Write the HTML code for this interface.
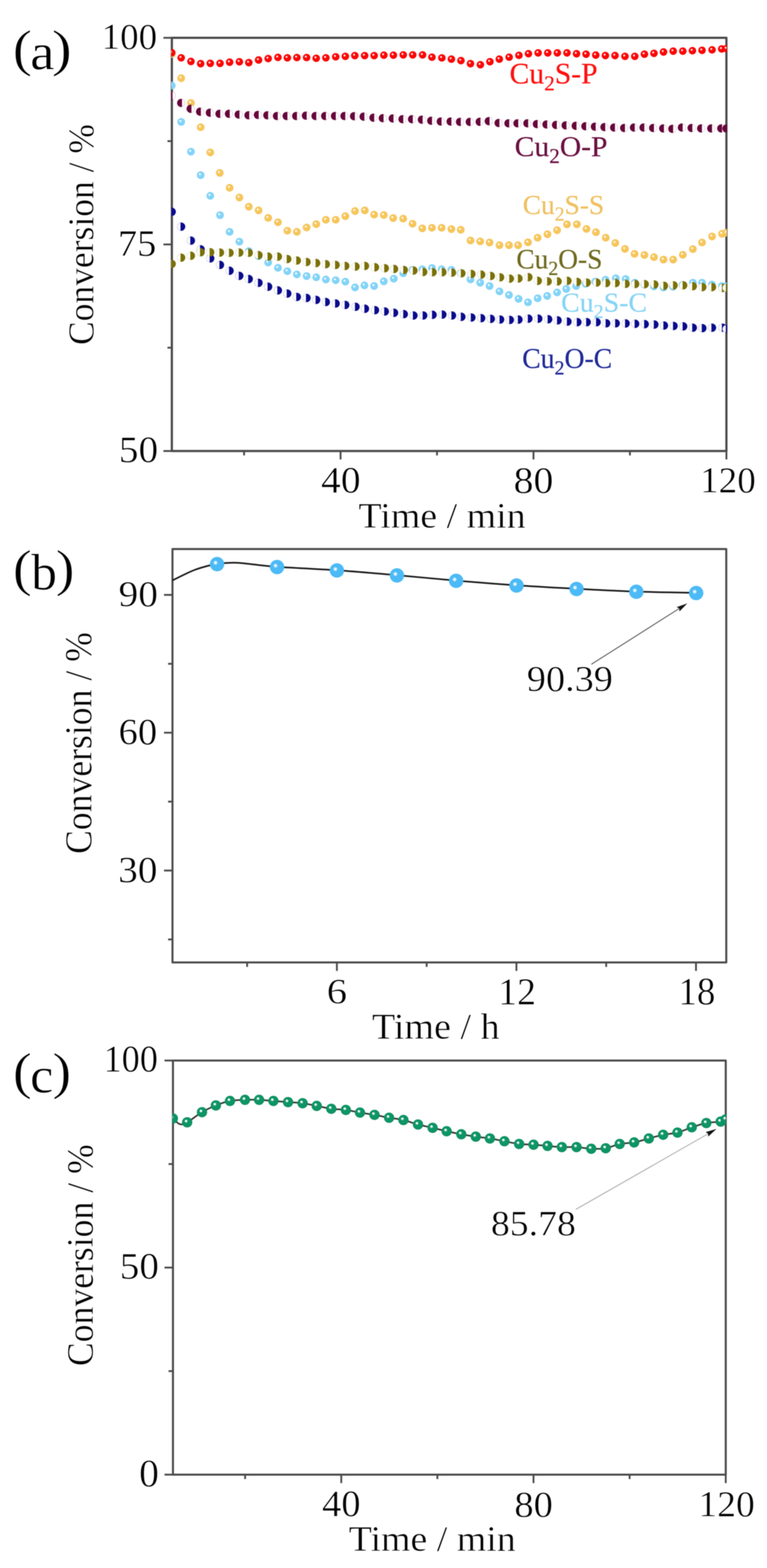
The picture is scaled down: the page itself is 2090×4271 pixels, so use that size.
<!DOCTYPE html>
<html><head><meta charset="utf-8"><title>Conversion vs time</title>
<style>html,body{margin:0;padding:0;background:#fff;} svg{display:block;filter:blur(1.1px);} text{font-family:'Liberation Serif', 'Times New Roman', serif;stroke:#fff;stroke-width:1.1px;}</style>
</head><body>
<svg width="2090" height="4271" viewBox="0 0 2090 4271">
<defs>
<radialGradient id="gR" cx="0.5" cy="0.5" r="0.5" fx="0.36" fy="0.34"><stop offset="0" stop-color="#fff"/><stop offset="0.16" stop-color="#fff" stop-opacity="0.9"/><stop offset="0.34" stop-color="#ff0505"/><stop offset="0.85" stop-color="#ff0505"/><stop offset="1" stop-color="#e00000"/></radialGradient>
<radialGradient id="gO" cx="0.5" cy="0.5" r="0.5" fx="0.36" fy="0.34"><stop offset="0" stop-color="#fff"/><stop offset="0.16" stop-color="#fff" stop-opacity="0.9"/><stop offset="0.34" stop-color="#f7c65a"/><stop offset="0.85" stop-color="#f7c65a"/><stop offset="1" stop-color="#efbb50"/></radialGradient>
<radialGradient id="gL" cx="0.5" cy="0.5" r="0.5" fx="0.36" fy="0.34"><stop offset="0" stop-color="#fff"/><stop offset="0.16" stop-color="#fff" stop-opacity="0.9"/><stop offset="0.34" stop-color="#82d4f8"/><stop offset="0.85" stop-color="#82d4f8"/><stop offset="1" stop-color="#6fc8f2"/></radialGradient>
<radialGradient id="gB" cx="0.5" cy="0.5" r="0.5" fx="0.36" fy="0.34"><stop offset="0" stop-color="#fff"/><stop offset="0.16" stop-color="#fff" stop-opacity="0.9"/><stop offset="0.34" stop-color="#4cb8f4"/><stop offset="0.85" stop-color="#4cb8f4"/><stop offset="1" stop-color="#43b0ef"/></radialGradient>
<radialGradient id="gG" cx="0.5" cy="0.5" r="0.5" fx="0.36" fy="0.34"><stop offset="0" stop-color="#fff"/><stop offset="0.16" stop-color="#fff" stop-opacity="0.9"/><stop offset="0.34" stop-color="#0c9565"/><stop offset="0.85" stop-color="#0c9565"/><stop offset="1" stop-color="#078556"/></radialGradient>
<radialGradient id="hl"><stop offset="0" stop-color="#fff"/><stop offset="0.45" stop-color="#fff" stop-opacity="0.85"/><stop offset="1" stop-color="#fff" stop-opacity="0"/></radialGradient>
<clipPath id="clipA"><rect x="466.5" y="100" width="1514.5" height="1131"/></clipPath>
<clipPath id="clipB"><rect x="469" y="1493" width="1511" height="1131"/></clipPath>
<clipPath id="clipC"><rect x="469.8" y="2886" width="1508.6" height="1133"/></clipPath>
</defs>
<rect width="2090" height="4271" fill="#fff"/>
<rect x="468.3" y="103" width="1511.1000000000001" height="1125.5" fill="none" stroke="#4a4a4a" stroke-width="6" stroke-linejoin="round"/>
<line x1="445.3" y1="103" x2="468.3" y2="103" stroke="#4a4a4a" stroke-width="5"/>
<line x1="445.3" y1="665.8" x2="468.3" y2="665.8" stroke="#4a4a4a" stroke-width="5"/>
<line x1="445.3" y1="1228.5" x2="468.3" y2="1228.5" stroke="#4a4a4a" stroke-width="5"/>
<line x1="456.3" y1="384.4" x2="468.3" y2="384.4" stroke="#4a4a4a" stroke-width="5"/>
<line x1="456.3" y1="947.1" x2="468.3" y2="947.1" stroke="#4a4a4a" stroke-width="5"/>
<line x1="928" y1="1228.5" x2="928" y2="1251.5" stroke="#4a4a4a" stroke-width="5"/>
<line x1="1453.7" y1="1228.5" x2="1453.7" y2="1251.5" stroke="#4a4a4a" stroke-width="5"/>
<line x1="1979.4" y1="1228.5" x2="1979.4" y2="1251.5" stroke="#4a4a4a" stroke-width="5"/>
<line x1="665.1" y1="1228.5" x2="665.1" y2="1240.5" stroke="#4a4a4a" stroke-width="5"/>
<line x1="1190.8" y1="1228.5" x2="1190.8" y2="1240.5" stroke="#4a4a4a" stroke-width="5"/>
<line x1="1716.5" y1="1228.5" x2="1716.5" y2="1240.5" stroke="#4a4a4a" stroke-width="5"/>
<g clip-path="url(#clipA)">
<circle cx="468.0" cy="147.0" r="10.5" fill="url(#gO)"/>
<circle cx="493.7" cy="213.0" r="10.5" fill="url(#gO)"/>
<circle cx="520.3" cy="280.4" r="10.5" fill="url(#gO)"/>
<circle cx="546.8" cy="346.6" r="10.5" fill="url(#gO)"/>
<circle cx="573.0" cy="415.2" r="10.5" fill="url(#gO)"/>
<circle cx="598.8" cy="471.0" r="10.5" fill="url(#gO)"/>
<circle cx="625.7" cy="511.5" r="10.5" fill="url(#gO)"/>
<circle cx="652.3" cy="538.0" r="10.5" fill="url(#gO)"/>
<circle cx="678.0" cy="563.0" r="10.5" fill="url(#gO)"/>
<circle cx="704.6" cy="573.0" r="10.5" fill="url(#gO)"/>
<circle cx="730.8" cy="593.5" r="10.5" fill="url(#gO)"/>
<circle cx="757.4" cy="605.4" r="10.5" fill="url(#gO)"/>
<circle cx="783.0" cy="628.4" r="10.5" fill="url(#gO)"/>
<circle cx="809.0" cy="631.6" r="10.5" fill="url(#gO)"/>
<circle cx="835.5" cy="619.7" r="10.5" fill="url(#gO)"/>
<circle cx="861.7" cy="610.6" r="10.5" fill="url(#gO)"/>
<circle cx="888.0" cy="598.7" r="10.5" fill="url(#gO)"/>
<circle cx="914.8" cy="598.7" r="10.5" fill="url(#gO)"/>
<circle cx="941.0" cy="588.8" r="10.5" fill="url(#gO)"/>
<circle cx="967.4" cy="574.8" r="10.5" fill="url(#gO)"/>
<circle cx="994.0" cy="573.0" r="10.5" fill="url(#gO)"/>
<circle cx="1019.5" cy="584.6" r="10.5" fill="url(#gO)"/>
<circle cx="1045.8" cy="585.7" r="10.5" fill="url(#gO)"/>
<circle cx="1071.3" cy="594.0" r="10.5" fill="url(#gO)"/>
<circle cx="1098.7" cy="595.6" r="10.5" fill="url(#gO)"/>
<circle cx="1124.2" cy="609.4" r="10.5" fill="url(#gO)"/>
<circle cx="1150.8" cy="622.0" r="10.5" fill="url(#gO)"/>
<circle cx="1177.0" cy="620.4" r="10.5" fill="url(#gO)"/>
<circle cx="1203.4" cy="620.4" r="10.5" fill="url(#gO)"/>
<circle cx="1230.0" cy="624.0" r="10.5" fill="url(#gO)"/>
<circle cx="1255.5" cy="625.8" r="10.5" fill="url(#gO)"/>
<circle cx="1282.0" cy="655.0" r="10.5" fill="url(#gO)"/>
<circle cx="1308.5" cy="657.6" r="10.5" fill="url(#gO)"/>
<circle cx="1334.0" cy="660.5" r="10.5" fill="url(#gO)"/>
<circle cx="1361.0" cy="667.8" r="10.5" fill="url(#gO)"/>
<circle cx="1387.0" cy="667.8" r="10.5" fill="url(#gO)"/>
<circle cx="1411.7" cy="668.0" r="10.5" fill="url(#gO)"/>
<circle cx="1438.7" cy="660.0" r="10.5" fill="url(#gO)"/>
<circle cx="1465.0" cy="647.5" r="10.5" fill="url(#gO)"/>
<circle cx="1491.7" cy="638.0" r="10.5" fill="url(#gO)"/>
<circle cx="1518.0" cy="627.0" r="10.5" fill="url(#gO)"/>
<circle cx="1545.0" cy="611.0" r="10.5" fill="url(#gO)"/>
<circle cx="1572.0" cy="611.0" r="10.5" fill="url(#gO)"/>
<circle cx="1598.0" cy="623.7" r="10.5" fill="url(#gO)"/>
<circle cx="1624.0" cy="632.6" r="10.5" fill="url(#gO)"/>
<circle cx="1650.6" cy="647.5" r="10.5" fill="url(#gO)"/>
<circle cx="1676.6" cy="661.8" r="10.5" fill="url(#gO)"/>
<circle cx="1703.0" cy="678.0" r="10.5" fill="url(#gO)"/>
<circle cx="1729.0" cy="691.5" r="10.5" fill="url(#gO)"/>
<circle cx="1756.0" cy="694.5" r="10.5" fill="url(#gO)"/>
<circle cx="1782.0" cy="700.4" r="10.5" fill="url(#gO)"/>
<circle cx="1808.0" cy="707.0" r="10.5" fill="url(#gO)"/>
<circle cx="1834.4" cy="707.0" r="10.5" fill="url(#gO)"/>
<circle cx="1860.6" cy="694.0" r="10.5" fill="url(#gO)"/>
<circle cx="1888.0" cy="678.5" r="10.5" fill="url(#gO)"/>
<circle cx="1913.0" cy="660.6" r="10.5" fill="url(#gO)"/>
<circle cx="1940.3" cy="644.0" r="10.5" fill="url(#gO)"/>
<circle cx="1967.6" cy="636.8" r="10.5" fill="url(#gO)"/>
<circle cx="1979.4" cy="634.0" r="10.5" fill="url(#gO)"/>
<circle cx="468.0" cy="232.8" r="10.5" fill="url(#gL)"/>
<circle cx="493.7" cy="332.0" r="10.5" fill="url(#gL)"/>
<circle cx="520.3" cy="413.2" r="10.5" fill="url(#gL)"/>
<circle cx="546.8" cy="477.0" r="10.5" fill="url(#gL)"/>
<circle cx="573.0" cy="533.3" r="10.5" fill="url(#gL)"/>
<circle cx="599.6" cy="586.0" r="10.5" fill="url(#gL)"/>
<circle cx="625.7" cy="631.6" r="10.5" fill="url(#gL)"/>
<circle cx="652.3" cy="658.2" r="10.5" fill="url(#gL)"/>
<circle cx="678.0" cy="684.0" r="10.5" fill="url(#gL)"/>
<circle cx="704.6" cy="697.8" r="10.5" fill="url(#gL)"/>
<circle cx="730.8" cy="715.0" r="10.5" fill="url(#gL)"/>
<circle cx="757.4" cy="729.5" r="10.5" fill="url(#gL)"/>
<circle cx="783.0" cy="738.7" r="10.5" fill="url(#gL)"/>
<circle cx="809.0" cy="747.4" r="10.5" fill="url(#gL)"/>
<circle cx="835.5" cy="752.0" r="10.5" fill="url(#gL)"/>
<circle cx="861.7" cy="755.3" r="10.5" fill="url(#gL)"/>
<circle cx="888.0" cy="761.3" r="10.5" fill="url(#gL)"/>
<circle cx="914.8" cy="763.2" r="10.5" fill="url(#gL)"/>
<circle cx="941.0" cy="767.2" r="10.5" fill="url(#gL)"/>
<circle cx="967.4" cy="782.8" r="10.5" fill="url(#gL)"/>
<circle cx="993.0" cy="777.3" r="10.5" fill="url(#gL)"/>
<circle cx="1019.5" cy="779.0" r="10.5" fill="url(#gL)"/>
<circle cx="1045.8" cy="766.3" r="10.5" fill="url(#gL)"/>
<circle cx="1073.0" cy="759.0" r="10.5" fill="url(#gL)"/>
<circle cx="1098.7" cy="744.4" r="10.5" fill="url(#gL)"/>
<circle cx="1124.0" cy="735.0" r="10.5" fill="url(#gL)"/>
<circle cx="1150.8" cy="733.5" r="10.5" fill="url(#gL)"/>
<circle cx="1177.0" cy="730.0" r="10.5" fill="url(#gL)"/>
<circle cx="1203.4" cy="733.5" r="10.5" fill="url(#gL)"/>
<circle cx="1230.0" cy="735.0" r="10.5" fill="url(#gL)"/>
<circle cx="1255.5" cy="744.0" r="10.5" fill="url(#gL)"/>
<circle cx="1282.0" cy="761.0" r="10.5" fill="url(#gL)"/>
<circle cx="1308.5" cy="770.0" r="10.5" fill="url(#gL)"/>
<circle cx="1334.0" cy="779.0" r="10.5" fill="url(#gL)"/>
<circle cx="1361.0" cy="793.7" r="10.5" fill="url(#gL)"/>
<circle cx="1387.0" cy="803.5" r="10.5" fill="url(#gL)"/>
<circle cx="1413.0" cy="814.0" r="10.5" fill="url(#gL)"/>
<circle cx="1438.7" cy="823.5" r="10.5" fill="url(#gL)"/>
<circle cx="1465.0" cy="812.5" r="10.5" fill="url(#gL)"/>
<circle cx="1491.0" cy="806.0" r="10.5" fill="url(#gL)"/>
<circle cx="1518.0" cy="796.6" r="10.5" fill="url(#gL)"/>
<circle cx="1543.0" cy="787.0" r="10.5" fill="url(#gL)"/>
<circle cx="1570.0" cy="779.0" r="10.5" fill="url(#gL)"/>
<circle cx="1596.0" cy="773.0" r="10.5" fill="url(#gL)"/>
<circle cx="1622.0" cy="767.0" r="10.5" fill="url(#gL)"/>
<circle cx="1650.0" cy="762.0" r="10.5" fill="url(#gL)"/>
<circle cx="1678.0" cy="758.0" r="10.5" fill="url(#gL)"/>
<circle cx="1704.8" cy="760.0" r="10.5" fill="url(#gL)"/>
<circle cx="1730.0" cy="770.0" r="10.5" fill="url(#gL)"/>
<circle cx="1756.0" cy="775.0" r="10.5" fill="url(#gL)"/>
<circle cx="1782.0" cy="780.0" r="10.5" fill="url(#gL)"/>
<circle cx="1808.0" cy="783.0" r="10.5" fill="url(#gL)"/>
<circle cx="1834.0" cy="781.0" r="10.5" fill="url(#gL)"/>
<circle cx="1860.0" cy="776.0" r="10.5" fill="url(#gL)"/>
<circle cx="1888.0" cy="770.0" r="10.5" fill="url(#gL)"/>
<circle cx="1913.0" cy="770.0" r="10.5" fill="url(#gL)"/>
<circle cx="1940.0" cy="775.0" r="10.5" fill="url(#gL)"/>
<circle cx="1967.0" cy="779.0" r="10.5" fill="url(#gL)"/>
<circle cx="1979.4" cy="780.0" r="10.5" fill="url(#gL)"/>
<circle cx="468.0" cy="576.9" r="10.700000000000001" fill="#fff" stroke="#0a0a8c" stroke-opacity="0.22" stroke-width="1.4"/>
<path d="M466.2,565.6 A11.4,11.4 0 1 1 466.2,588.2 Z" fill="#0a0a8c"/>
<circle cx="493.7" cy="617.3" r="10.700000000000001" fill="#fff" stroke="#0a0a8c" stroke-opacity="0.22" stroke-width="1.4"/>
<path d="M491.9,606.0 A11.4,11.4 0 1 1 491.9,628.6 Z" fill="#0a0a8c"/>
<circle cx="520.3" cy="655.4" r="10.700000000000001" fill="#fff" stroke="#0a0a8c" stroke-opacity="0.22" stroke-width="1.4"/>
<path d="M518.5,644.1 A11.4,11.4 0 1 1 518.5,666.7 Z" fill="#0a0a8c"/>
<circle cx="546.8" cy="679.2" r="10.700000000000001" fill="#fff" stroke="#0a0a8c" stroke-opacity="0.22" stroke-width="1.4"/>
<path d="M545.0,667.9 A11.4,11.4 0 1 1 545.0,690.5 Z" fill="#0a0a8c"/>
<circle cx="573.0" cy="703.8" r="10.700000000000001" fill="#fff" stroke="#0a0a8c" stroke-opacity="0.22" stroke-width="1.4"/>
<path d="M571.2,692.5 A11.4,11.4 0 1 1 571.2,715.1 Z" fill="#0a0a8c"/>
<circle cx="599.6" cy="721.6" r="10.700000000000001" fill="#fff" stroke="#0a0a8c" stroke-opacity="0.22" stroke-width="1.4"/>
<path d="M597.8,710.3 A11.4,11.4 0 1 1 597.8,732.9 Z" fill="#0a0a8c"/>
<circle cx="625.7" cy="737.5" r="10.700000000000001" fill="#fff" stroke="#0a0a8c" stroke-opacity="0.22" stroke-width="1.4"/>
<path d="M623.9,726.2 A11.4,11.4 0 1 1 623.9,748.8 Z" fill="#0a0a8c"/>
<circle cx="652.3" cy="751.3" r="10.700000000000001" fill="#fff" stroke="#0a0a8c" stroke-opacity="0.22" stroke-width="1.4"/>
<path d="M650.5,740.0 A11.4,11.4 0 1 1 650.5,762.6 Z" fill="#0a0a8c"/>
<circle cx="678.0" cy="760.0" r="10.700000000000001" fill="#fff" stroke="#0a0a8c" stroke-opacity="0.22" stroke-width="1.4"/>
<path d="M676.2,748.7 A11.4,11.4 0 1 1 676.2,771.3 Z" fill="#0a0a8c"/>
<circle cx="704.6" cy="770.4" r="10.700000000000001" fill="#fff" stroke="#0a0a8c" stroke-opacity="0.22" stroke-width="1.4"/>
<path d="M702.8,759.1 A11.4,11.4 0 1 1 702.8,781.7 Z" fill="#0a0a8c"/>
<circle cx="730.8" cy="781.0" r="10.700000000000001" fill="#fff" stroke="#0a0a8c" stroke-opacity="0.22" stroke-width="1.4"/>
<path d="M729.0,769.7 A11.4,11.4 0 1 1 729.0,792.3 Z" fill="#0a0a8c"/>
<circle cx="757.4" cy="791.0" r="10.700000000000001" fill="#fff" stroke="#0a0a8c" stroke-opacity="0.22" stroke-width="1.4"/>
<path d="M755.6,779.7 A11.4,11.4 0 1 1 755.6,802.3 Z" fill="#0a0a8c"/>
<circle cx="783.0" cy="799.7" r="10.700000000000001" fill="#fff" stroke="#0a0a8c" stroke-opacity="0.22" stroke-width="1.4"/>
<path d="M781.2,788.4 A11.4,11.4 0 1 1 781.2,811.0 Z" fill="#0a0a8c"/>
<circle cx="809.0" cy="808.8" r="10.700000000000001" fill="#fff" stroke="#0a0a8c" stroke-opacity="0.22" stroke-width="1.4"/>
<path d="M807.2,797.5 A11.4,11.4 0 1 1 807.2,820.1 Z" fill="#0a0a8c"/>
<circle cx="835.5" cy="811.6" r="10.700000000000001" fill="#fff" stroke="#0a0a8c" stroke-opacity="0.22" stroke-width="1.4"/>
<path d="M833.7,800.3 A11.4,11.4 0 1 1 833.7,822.9 Z" fill="#0a0a8c"/>
<circle cx="861.7" cy="816.8" r="10.700000000000001" fill="#fff" stroke="#0a0a8c" stroke-opacity="0.22" stroke-width="1.4"/>
<path d="M859.9,805.5 A11.4,11.4 0 1 1 859.9,828.1 Z" fill="#0a0a8c"/>
<circle cx="888.0" cy="822.7" r="10.700000000000001" fill="#fff" stroke="#0a0a8c" stroke-opacity="0.22" stroke-width="1.4"/>
<path d="M886.2,811.4 A11.4,11.4 0 1 1 886.2,834.0 Z" fill="#0a0a8c"/>
<circle cx="914.8" cy="826.7" r="10.700000000000001" fill="#fff" stroke="#0a0a8c" stroke-opacity="0.22" stroke-width="1.4"/>
<path d="M913.0,815.4 A11.4,11.4 0 1 1 913.0,838.0 Z" fill="#0a0a8c"/>
<circle cx="941.0" cy="830.6" r="10.700000000000001" fill="#fff" stroke="#0a0a8c" stroke-opacity="0.22" stroke-width="1.4"/>
<path d="M939.2,819.3 A11.4,11.4 0 1 1 939.2,841.9 Z" fill="#0a0a8c"/>
<circle cx="969.0" cy="835.6" r="10.700000000000001" fill="#fff" stroke="#0a0a8c" stroke-opacity="0.22" stroke-width="1.4"/>
<path d="M967.2,824.3 A11.4,11.4 0 1 1 967.2,846.9 Z" fill="#0a0a8c"/>
<circle cx="994.7" cy="841.0" r="10.700000000000001" fill="#fff" stroke="#0a0a8c" stroke-opacity="0.22" stroke-width="1.4"/>
<path d="M992.9,829.7 A11.4,11.4 0 1 1 992.9,852.3 Z" fill="#0a0a8c"/>
<circle cx="1022.0" cy="844.8" r="10.700000000000001" fill="#fff" stroke="#0a0a8c" stroke-opacity="0.22" stroke-width="1.4"/>
<path d="M1020.2,833.5 A11.4,11.4 0 1 1 1020.2,856.1 Z" fill="#0a0a8c"/>
<circle cx="1048.7" cy="848.4" r="10.700000000000001" fill="#fff" stroke="#0a0a8c" stroke-opacity="0.22" stroke-width="1.4"/>
<path d="M1046.9,837.1 A11.4,11.4 0 1 1 1046.9,859.7 Z" fill="#0a0a8c"/>
<circle cx="1074.0" cy="852.0" r="10.700000000000001" fill="#fff" stroke="#0a0a8c" stroke-opacity="0.22" stroke-width="1.4"/>
<path d="M1072.2,840.7 A11.4,11.4 0 1 1 1072.2,863.3 Z" fill="#0a0a8c"/>
<circle cx="1100.5" cy="855.7" r="10.700000000000001" fill="#fff" stroke="#0a0a8c" stroke-opacity="0.22" stroke-width="1.4"/>
<path d="M1098.7,844.4 A11.4,11.4 0 1 1 1098.7,867.0 Z" fill="#0a0a8c"/>
<circle cx="1126.8" cy="859.3" r="10.700000000000001" fill="#fff" stroke="#0a0a8c" stroke-opacity="0.22" stroke-width="1.4"/>
<path d="M1125.0,848.0 A11.4,11.4 0 1 1 1125.0,870.6 Z" fill="#0a0a8c"/>
<circle cx="1153.4" cy="859.3" r="10.700000000000001" fill="#fff" stroke="#0a0a8c" stroke-opacity="0.22" stroke-width="1.4"/>
<path d="M1151.6,848.0 A11.4,11.4 0 1 1 1151.6,870.6 Z" fill="#0a0a8c"/>
<circle cx="1179.0" cy="857.5" r="10.700000000000001" fill="#fff" stroke="#0a0a8c" stroke-opacity="0.22" stroke-width="1.4"/>
<path d="M1177.2,846.2 A11.4,11.4 0 1 1 1177.2,868.8 Z" fill="#0a0a8c"/>
<circle cx="1205.6" cy="856.8" r="10.700000000000001" fill="#fff" stroke="#0a0a8c" stroke-opacity="0.22" stroke-width="1.4"/>
<path d="M1203.8,845.5 A11.4,11.4 0 1 1 1203.8,868.1 Z" fill="#0a0a8c"/>
<circle cx="1231.8" cy="859.3" r="10.700000000000001" fill="#fff" stroke="#0a0a8c" stroke-opacity="0.22" stroke-width="1.4"/>
<path d="M1230.0,848.0 A11.4,11.4 0 1 1 1230.0,870.6 Z" fill="#0a0a8c"/>
<circle cx="1257.4" cy="863.0" r="10.700000000000001" fill="#fff" stroke="#0a0a8c" stroke-opacity="0.22" stroke-width="1.4"/>
<path d="M1255.6,851.7 A11.4,11.4 0 1 1 1255.6,874.3 Z" fill="#0a0a8c"/>
<circle cx="1284.7" cy="864.8" r="10.700000000000001" fill="#fff" stroke="#0a0a8c" stroke-opacity="0.22" stroke-width="1.4"/>
<path d="M1282.9,853.5 A11.4,11.4 0 1 1 1282.9,876.1 Z" fill="#0a0a8c"/>
<circle cx="1311.4" cy="866.6" r="10.700000000000001" fill="#fff" stroke="#0a0a8c" stroke-opacity="0.22" stroke-width="1.4"/>
<path d="M1309.6,855.3 A11.4,11.4 0 1 1 1309.6,877.9 Z" fill="#0a0a8c"/>
<circle cx="1337.6" cy="868.5" r="10.700000000000001" fill="#fff" stroke="#0a0a8c" stroke-opacity="0.22" stroke-width="1.4"/>
<path d="M1335.8,857.2 A11.4,11.4 0 1 1 1335.8,879.8 Z" fill="#0a0a8c"/>
<circle cx="1363.0" cy="870.3" r="10.700000000000001" fill="#fff" stroke="#0a0a8c" stroke-opacity="0.22" stroke-width="1.4"/>
<path d="M1361.2,859.0 A11.4,11.4 0 1 1 1361.2,881.6 Z" fill="#0a0a8c"/>
<circle cx="1389.4" cy="871.4" r="10.700000000000001" fill="#fff" stroke="#0a0a8c" stroke-opacity="0.22" stroke-width="1.4"/>
<path d="M1387.6,860.1 A11.4,11.4 0 1 1 1387.6,882.7 Z" fill="#0a0a8c"/>
<circle cx="1413.0" cy="870.5" r="10.700000000000001" fill="#fff" stroke="#0a0a8c" stroke-opacity="0.22" stroke-width="1.4"/>
<path d="M1411.2,859.2 A11.4,11.4 0 1 1 1411.2,881.8 Z" fill="#0a0a8c"/>
<circle cx="1440.0" cy="868.0" r="10.700000000000001" fill="#fff" stroke="#0a0a8c" stroke-opacity="0.22" stroke-width="1.4"/>
<path d="M1438.2,856.7 A11.4,11.4 0 1 1 1438.2,879.3 Z" fill="#0a0a8c"/>
<circle cx="1467.0" cy="868.0" r="10.700000000000001" fill="#fff" stroke="#0a0a8c" stroke-opacity="0.22" stroke-width="1.4"/>
<path d="M1465.2,856.7 A11.4,11.4 0 1 1 1465.2,879.3 Z" fill="#0a0a8c"/>
<circle cx="1494.0" cy="869.6" r="10.700000000000001" fill="#fff" stroke="#0a0a8c" stroke-opacity="0.22" stroke-width="1.4"/>
<path d="M1492.2,858.3 A11.4,11.4 0 1 1 1492.2,880.9 Z" fill="#0a0a8c"/>
<circle cx="1519.6" cy="872.7" r="10.700000000000001" fill="#fff" stroke="#0a0a8c" stroke-opacity="0.22" stroke-width="1.4"/>
<path d="M1517.8,861.4 A11.4,11.4 0 1 1 1517.8,884.0 Z" fill="#0a0a8c"/>
<circle cx="1546.5" cy="876.0" r="10.700000000000001" fill="#fff" stroke="#0a0a8c" stroke-opacity="0.22" stroke-width="1.4"/>
<path d="M1544.7,864.7 A11.4,11.4 0 1 1 1544.7,887.3 Z" fill="#0a0a8c"/>
<circle cx="1573.5" cy="877.5" r="10.700000000000001" fill="#fff" stroke="#0a0a8c" stroke-opacity="0.22" stroke-width="1.4"/>
<path d="M1571.7,866.2 A11.4,11.4 0 1 1 1571.7,888.8 Z" fill="#0a0a8c"/>
<circle cx="1599.0" cy="877.5" r="10.700000000000001" fill="#fff" stroke="#0a0a8c" stroke-opacity="0.22" stroke-width="1.4"/>
<path d="M1597.2,866.2 A11.4,11.4 0 1 1 1597.2,888.8 Z" fill="#0a0a8c"/>
<circle cx="1626.0" cy="877.5" r="10.700000000000001" fill="#fff" stroke="#0a0a8c" stroke-opacity="0.22" stroke-width="1.4"/>
<path d="M1624.2,866.2 A11.4,11.4 0 1 1 1624.2,888.8 Z" fill="#0a0a8c"/>
<circle cx="1652.0" cy="880.6" r="10.700000000000001" fill="#fff" stroke="#0a0a8c" stroke-opacity="0.22" stroke-width="1.4"/>
<path d="M1650.2,869.3 A11.4,11.4 0 1 1 1650.2,891.9 Z" fill="#0a0a8c"/>
<circle cx="1678.0" cy="880.6" r="10.700000000000001" fill="#fff" stroke="#0a0a8c" stroke-opacity="0.22" stroke-width="1.4"/>
<path d="M1676.2,869.3 A11.4,11.4 0 1 1 1676.2,891.9 Z" fill="#0a0a8c"/>
<circle cx="1705.0" cy="881.0" r="10.700000000000001" fill="#fff" stroke="#0a0a8c" stroke-opacity="0.22" stroke-width="1.4"/>
<path d="M1703.2,869.7 A11.4,11.4 0 1 1 1703.2,892.3 Z" fill="#0a0a8c"/>
<circle cx="1731.0" cy="882.0" r="10.700000000000001" fill="#fff" stroke="#0a0a8c" stroke-opacity="0.22" stroke-width="1.4"/>
<path d="M1729.2,870.7 A11.4,11.4 0 1 1 1729.2,893.3 Z" fill="#0a0a8c"/>
<circle cx="1757.0" cy="883.0" r="10.700000000000001" fill="#fff" stroke="#0a0a8c" stroke-opacity="0.22" stroke-width="1.4"/>
<path d="M1755.2,871.7 A11.4,11.4 0 1 1 1755.2,894.3 Z" fill="#0a0a8c"/>
<circle cx="1783.3" cy="884.0" r="10.700000000000001" fill="#fff" stroke="#0a0a8c" stroke-opacity="0.22" stroke-width="1.4"/>
<path d="M1781.5,872.7 A11.4,11.4 0 1 1 1781.5,895.3 Z" fill="#0a0a8c"/>
<circle cx="1809.4" cy="886.6" r="10.700000000000001" fill="#fff" stroke="#0a0a8c" stroke-opacity="0.22" stroke-width="1.4"/>
<path d="M1807.6,875.3 A11.4,11.4 0 1 1 1807.6,897.9 Z" fill="#0a0a8c"/>
<circle cx="1835.6" cy="887.8" r="10.700000000000001" fill="#fff" stroke="#0a0a8c" stroke-opacity="0.22" stroke-width="1.4"/>
<path d="M1833.8,876.5 A11.4,11.4 0 1 1 1833.8,899.1 Z" fill="#0a0a8c"/>
<circle cx="1861.8" cy="889.0" r="10.700000000000001" fill="#fff" stroke="#0a0a8c" stroke-opacity="0.22" stroke-width="1.4"/>
<path d="M1860.0,877.7 A11.4,11.4 0 1 1 1860.0,900.3 Z" fill="#0a0a8c"/>
<circle cx="1888.0" cy="892.6" r="10.700000000000001" fill="#fff" stroke="#0a0a8c" stroke-opacity="0.22" stroke-width="1.4"/>
<path d="M1886.2,881.3 A11.4,11.4 0 1 1 1886.2,903.9 Z" fill="#0a0a8c"/>
<circle cx="1914.0" cy="893.8" r="10.700000000000001" fill="#fff" stroke="#0a0a8c" stroke-opacity="0.22" stroke-width="1.4"/>
<path d="M1912.2,882.5 A11.4,11.4 0 1 1 1912.2,905.1 Z" fill="#0a0a8c"/>
<circle cx="1940.3" cy="892.6" r="10.700000000000001" fill="#fff" stroke="#0a0a8c" stroke-opacity="0.22" stroke-width="1.4"/>
<path d="M1938.5,881.3 A11.4,11.4 0 1 1 1938.5,903.9 Z" fill="#0a0a8c"/>
<circle cx="1968.8" cy="892.6" r="10.700000000000001" fill="#fff" stroke="#0a0a8c" stroke-opacity="0.22" stroke-width="1.4"/>
<path d="M1967.0,881.3 A11.4,11.4 0 1 1 1967.0,903.9 Z" fill="#0a0a8c"/>
<circle cx="1979.4" cy="896.0" r="10.700000000000001" fill="#fff" stroke="#0a0a8c" stroke-opacity="0.22" stroke-width="1.4"/>
<path d="M1977.6,884.7 A11.4,11.4 0 1 1 1977.6,907.3 Z" fill="#0a0a8c"/>
<circle cx="468.0" cy="143.6" r="10.3" fill="url(#gR)"/>
<circle cx="493.7" cy="157.5" r="10.3" fill="url(#gR)"/>
<circle cx="520.3" cy="167.4" r="10.3" fill="url(#gR)"/>
<circle cx="546.8" cy="173.4" r="10.3" fill="url(#gR)"/>
<circle cx="573.0" cy="172.6" r="10.3" fill="url(#gR)"/>
<circle cx="599.6" cy="172.6" r="10.3" fill="url(#gR)"/>
<circle cx="625.7" cy="169.4" r="10.3" fill="url(#gR)"/>
<circle cx="652.3" cy="168.2" r="10.3" fill="url(#gR)"/>
<circle cx="678.0" cy="170.6" r="10.3" fill="url(#gR)"/>
<circle cx="704.6" cy="163.4" r="10.3" fill="url(#gR)"/>
<circle cx="730.8" cy="159.5" r="10.3" fill="url(#gR)"/>
<circle cx="757.4" cy="156.3" r="10.3" fill="url(#gR)"/>
<circle cx="783.0" cy="157.5" r="10.3" fill="url(#gR)"/>
<circle cx="809.0" cy="156.7" r="10.3" fill="url(#gR)"/>
<circle cx="835.5" cy="156.7" r="10.3" fill="url(#gR)"/>
<circle cx="861.7" cy="158.7" r="10.3" fill="url(#gR)"/>
<circle cx="888.0" cy="157.5" r="10.3" fill="url(#gR)"/>
<circle cx="914.8" cy="154.7" r="10.3" fill="url(#gR)"/>
<circle cx="941.0" cy="153.5" r="10.3" fill="url(#gR)"/>
<circle cx="966.8" cy="151.5" r="10.3" fill="url(#gR)"/>
<circle cx="993.6" cy="151.5" r="10.3" fill="url(#gR)"/>
<circle cx="1019.6" cy="151.5" r="10.3" fill="url(#gR)"/>
<circle cx="1046.0" cy="150.3" r="10.3" fill="url(#gR)"/>
<circle cx="1072.0" cy="150.3" r="10.3" fill="url(#gR)"/>
<circle cx="1098.8" cy="149.5" r="10.3" fill="url(#gR)"/>
<circle cx="1124.7" cy="149.5" r="10.3" fill="url(#gR)"/>
<circle cx="1151.5" cy="149.5" r="10.3" fill="url(#gR)"/>
<circle cx="1177.0" cy="155.7" r="10.3" fill="url(#gR)"/>
<circle cx="1204.0" cy="157.7" r="10.3" fill="url(#gR)"/>
<circle cx="1230.0" cy="161.0" r="10.3" fill="url(#gR)"/>
<circle cx="1256.0" cy="165.0" r="10.3" fill="url(#gR)"/>
<circle cx="1282.0" cy="173.4" r="10.3" fill="url(#gR)"/>
<circle cx="1309.0" cy="176.3" r="10.3" fill="url(#gR)"/>
<circle cx="1335.0" cy="168.0" r="10.3" fill="url(#gR)"/>
<circle cx="1360.6" cy="161.0" r="10.3" fill="url(#gR)"/>
<circle cx="1387.4" cy="155.7" r="10.3" fill="url(#gR)"/>
<circle cx="1414.0" cy="150.7" r="10.3" fill="url(#gR)"/>
<circle cx="1440.0" cy="146.2" r="10.3" fill="url(#gR)"/>
<circle cx="1466.4" cy="144.0" r="10.3" fill="url(#gR)"/>
<circle cx="1492.6" cy="144.0" r="10.3" fill="url(#gR)"/>
<circle cx="1518.7" cy="144.0" r="10.3" fill="url(#gR)"/>
<circle cx="1545.0" cy="144.0" r="10.3" fill="url(#gR)"/>
<circle cx="1571.0" cy="146.4" r="10.3" fill="url(#gR)"/>
<circle cx="1597.0" cy="147.6" r="10.3" fill="url(#gR)"/>
<circle cx="1623.4" cy="150.0" r="10.3" fill="url(#gR)"/>
<circle cx="1649.6" cy="151.2" r="10.3" fill="url(#gR)"/>
<circle cx="1675.8" cy="151.2" r="10.3" fill="url(#gR)"/>
<circle cx="1703.0" cy="153.5" r="10.3" fill="url(#gR)"/>
<circle cx="1729.7" cy="153.5" r="10.3" fill="url(#gR)"/>
<circle cx="1756.0" cy="147.6" r="10.3" fill="url(#gR)"/>
<circle cx="1782.0" cy="145.2" r="10.3" fill="url(#gR)"/>
<circle cx="1808.0" cy="141.6" r="10.3" fill="url(#gR)"/>
<circle cx="1834.4" cy="139.3" r="10.3" fill="url(#gR)"/>
<circle cx="1860.6" cy="139.3" r="10.3" fill="url(#gR)"/>
<circle cx="1886.8" cy="138.0" r="10.3" fill="url(#gR)"/>
<circle cx="1913.0" cy="137.0" r="10.3" fill="url(#gR)"/>
<circle cx="1940.3" cy="135.7" r="10.3" fill="url(#gR)"/>
<circle cx="1966.5" cy="133.3" r="10.3" fill="url(#gR)"/>
<circle cx="1979.4" cy="132.5" r="10.3" fill="url(#gR)"/>
<circle cx="468.0" cy="718.8" r="10.700000000000001" fill="#fff" stroke="#7a7008" stroke-opacity="0.22" stroke-width="1.4"/>
<path d="M466.2,707.5 A11.4,11.4 0 1 1 466.2,730.1 Z" fill="#7a7008"/>
<circle cx="493.7" cy="701.8" r="10.700000000000001" fill="#fff" stroke="#7a7008" stroke-opacity="0.22" stroke-width="1.4"/>
<path d="M491.9,690.5 A11.4,11.4 0 1 1 491.9,713.1 Z" fill="#7a7008"/>
<circle cx="520.3" cy="696.6" r="10.700000000000001" fill="#fff" stroke="#7a7008" stroke-opacity="0.22" stroke-width="1.4"/>
<path d="M518.5,685.3 A11.4,11.4 0 1 1 518.5,707.9 Z" fill="#7a7008"/>
<circle cx="546.8" cy="687.1" r="10.700000000000001" fill="#fff" stroke="#7a7008" stroke-opacity="0.22" stroke-width="1.4"/>
<path d="M545.0,675.8 A11.4,11.4 0 1 1 545.0,698.4 Z" fill="#7a7008"/>
<circle cx="573.0" cy="687.1" r="10.700000000000001" fill="#fff" stroke="#7a7008" stroke-opacity="0.22" stroke-width="1.4"/>
<path d="M571.2,675.8 A11.4,11.4 0 1 1 571.2,698.4 Z" fill="#7a7008"/>
<circle cx="599.6" cy="688.0" r="10.700000000000001" fill="#fff" stroke="#7a7008" stroke-opacity="0.22" stroke-width="1.4"/>
<path d="M597.8,676.7 A11.4,11.4 0 1 1 597.8,699.3 Z" fill="#7a7008"/>
<circle cx="625.7" cy="688.7" r="10.700000000000001" fill="#fff" stroke="#7a7008" stroke-opacity="0.22" stroke-width="1.4"/>
<path d="M623.9,677.4 A11.4,11.4 0 1 1 623.9,700.0 Z" fill="#7a7008"/>
<circle cx="652.3" cy="688.0" r="10.700000000000001" fill="#fff" stroke="#7a7008" stroke-opacity="0.22" stroke-width="1.4"/>
<path d="M650.5,676.7 A11.4,11.4 0 1 1 650.5,699.3 Z" fill="#7a7008"/>
<circle cx="678.0" cy="688.7" r="10.700000000000001" fill="#fff" stroke="#7a7008" stroke-opacity="0.22" stroke-width="1.4"/>
<path d="M676.2,677.4 A11.4,11.4 0 1 1 676.2,700.0 Z" fill="#7a7008"/>
<circle cx="704.6" cy="695.0" r="10.700000000000001" fill="#fff" stroke="#7a7008" stroke-opacity="0.22" stroke-width="1.4"/>
<path d="M702.8,683.7 A11.4,11.4 0 1 1 702.8,706.3 Z" fill="#7a7008"/>
<circle cx="730.8" cy="699.0" r="10.700000000000001" fill="#fff" stroke="#7a7008" stroke-opacity="0.22" stroke-width="1.4"/>
<path d="M729.0,687.7 A11.4,11.4 0 1 1 729.0,710.3 Z" fill="#7a7008"/>
<circle cx="757.4" cy="699.0" r="10.700000000000001" fill="#fff" stroke="#7a7008" stroke-opacity="0.22" stroke-width="1.4"/>
<path d="M755.6,687.7 A11.4,11.4 0 1 1 755.6,710.3 Z" fill="#7a7008"/>
<circle cx="783.0" cy="705.7" r="10.700000000000001" fill="#fff" stroke="#7a7008" stroke-opacity="0.22" stroke-width="1.4"/>
<path d="M781.2,694.4 A11.4,11.4 0 1 1 781.2,717.0 Z" fill="#7a7008"/>
<circle cx="809.0" cy="709.7" r="10.700000000000001" fill="#fff" stroke="#7a7008" stroke-opacity="0.22" stroke-width="1.4"/>
<path d="M807.2,698.4 A11.4,11.4 0 1 1 807.2,721.0 Z" fill="#7a7008"/>
<circle cx="835.5" cy="713.7" r="10.700000000000001" fill="#fff" stroke="#7a7008" stroke-opacity="0.22" stroke-width="1.4"/>
<path d="M833.7,702.4 A11.4,11.4 0 1 1 833.7,725.0 Z" fill="#7a7008"/>
<circle cx="861.7" cy="716.5" r="10.700000000000001" fill="#fff" stroke="#7a7008" stroke-opacity="0.22" stroke-width="1.4"/>
<path d="M859.9,705.2 A11.4,11.4 0 1 1 859.9,727.8 Z" fill="#7a7008"/>
<circle cx="888.0" cy="719.6" r="10.700000000000001" fill="#fff" stroke="#7a7008" stroke-opacity="0.22" stroke-width="1.4"/>
<path d="M886.2,708.3 A11.4,11.4 0 1 1 886.2,730.9 Z" fill="#7a7008"/>
<circle cx="914.8" cy="721.6" r="10.700000000000001" fill="#fff" stroke="#7a7008" stroke-opacity="0.22" stroke-width="1.4"/>
<path d="M913.0,710.3 A11.4,11.4 0 1 1 913.0,732.9 Z" fill="#7a7008"/>
<circle cx="941.0" cy="724.4" r="10.700000000000001" fill="#fff" stroke="#7a7008" stroke-opacity="0.22" stroke-width="1.4"/>
<path d="M939.2,713.1 A11.4,11.4 0 1 1 939.2,735.7 Z" fill="#7a7008"/>
<circle cx="969.0" cy="726.0" r="10.700000000000001" fill="#fff" stroke="#7a7008" stroke-opacity="0.22" stroke-width="1.4"/>
<path d="M967.2,714.7 A11.4,11.4 0 1 1 967.2,737.3 Z" fill="#7a7008"/>
<circle cx="994.7" cy="724.4" r="10.700000000000001" fill="#fff" stroke="#7a7008" stroke-opacity="0.22" stroke-width="1.4"/>
<path d="M992.9,713.1 A11.4,11.4 0 1 1 992.9,735.7 Z" fill="#7a7008"/>
<circle cx="1022.0" cy="728.0" r="10.700000000000001" fill="#fff" stroke="#7a7008" stroke-opacity="0.22" stroke-width="1.4"/>
<path d="M1020.2,716.7 A11.4,11.4 0 1 1 1020.2,739.3 Z" fill="#7a7008"/>
<circle cx="1048.7" cy="730.6" r="10.700000000000001" fill="#fff" stroke="#7a7008" stroke-opacity="0.22" stroke-width="1.4"/>
<path d="M1046.9,719.3 A11.4,11.4 0 1 1 1046.9,741.9 Z" fill="#7a7008"/>
<circle cx="1074.0" cy="732.7" r="10.700000000000001" fill="#fff" stroke="#7a7008" stroke-opacity="0.22" stroke-width="1.4"/>
<path d="M1072.2,721.4 A11.4,11.4 0 1 1 1072.2,744.0 Z" fill="#7a7008"/>
<circle cx="1100.5" cy="735.3" r="10.700000000000001" fill="#fff" stroke="#7a7008" stroke-opacity="0.22" stroke-width="1.4"/>
<path d="M1098.7,724.0 A11.4,11.4 0 1 1 1098.7,746.6 Z" fill="#7a7008"/>
<circle cx="1126.8" cy="737.0" r="10.700000000000001" fill="#fff" stroke="#7a7008" stroke-opacity="0.22" stroke-width="1.4"/>
<path d="M1125.0,725.7 A11.4,11.4 0 1 1 1125.0,748.3 Z" fill="#7a7008"/>
<circle cx="1153.4" cy="740.8" r="10.700000000000001" fill="#fff" stroke="#7a7008" stroke-opacity="0.22" stroke-width="1.4"/>
<path d="M1151.6,729.5 A11.4,11.4 0 1 1 1151.6,752.1 Z" fill="#7a7008"/>
<circle cx="1179.0" cy="741.5" r="10.700000000000001" fill="#fff" stroke="#7a7008" stroke-opacity="0.22" stroke-width="1.4"/>
<path d="M1177.2,730.2 A11.4,11.4 0 1 1 1177.2,752.8 Z" fill="#7a7008"/>
<circle cx="1205.6" cy="741.5" r="10.700000000000001" fill="#fff" stroke="#7a7008" stroke-opacity="0.22" stroke-width="1.4"/>
<path d="M1203.8,730.2 A11.4,11.4 0 1 1 1203.8,752.8 Z" fill="#7a7008"/>
<circle cx="1231.8" cy="742.6" r="10.700000000000001" fill="#fff" stroke="#7a7008" stroke-opacity="0.22" stroke-width="1.4"/>
<path d="M1230.0,731.3 A11.4,11.4 0 1 1 1230.0,753.9 Z" fill="#7a7008"/>
<circle cx="1257.4" cy="744.4" r="10.700000000000001" fill="#fff" stroke="#7a7008" stroke-opacity="0.22" stroke-width="1.4"/>
<path d="M1255.6,733.1 A11.4,11.4 0 1 1 1255.6,755.7 Z" fill="#7a7008"/>
<circle cx="1284.7" cy="746.2" r="10.700000000000001" fill="#fff" stroke="#7a7008" stroke-opacity="0.22" stroke-width="1.4"/>
<path d="M1282.9,734.9 A11.4,11.4 0 1 1 1282.9,757.5 Z" fill="#7a7008"/>
<circle cx="1311.4" cy="748.0" r="10.700000000000001" fill="#fff" stroke="#7a7008" stroke-opacity="0.22" stroke-width="1.4"/>
<path d="M1309.6,736.7 A11.4,11.4 0 1 1 1309.6,759.3 Z" fill="#7a7008"/>
<circle cx="1337.6" cy="751.7" r="10.700000000000001" fill="#fff" stroke="#7a7008" stroke-opacity="0.22" stroke-width="1.4"/>
<path d="M1335.8,740.4 A11.4,11.4 0 1 1 1335.8,763.0 Z" fill="#7a7008"/>
<circle cx="1363.0" cy="755.4" r="10.700000000000001" fill="#fff" stroke="#7a7008" stroke-opacity="0.22" stroke-width="1.4"/>
<path d="M1361.2,744.1 A11.4,11.4 0 1 1 1361.2,766.7 Z" fill="#7a7008"/>
<circle cx="1389.4" cy="759.0" r="10.700000000000001" fill="#fff" stroke="#7a7008" stroke-opacity="0.22" stroke-width="1.4"/>
<path d="M1387.6,747.7 A11.4,11.4 0 1 1 1387.6,770.3 Z" fill="#7a7008"/>
<circle cx="1413.0" cy="758.5" r="10.700000000000001" fill="#fff" stroke="#7a7008" stroke-opacity="0.22" stroke-width="1.4"/>
<path d="M1411.2,747.2 A11.4,11.4 0 1 1 1411.2,769.8 Z" fill="#7a7008"/>
<circle cx="1440.0" cy="755.0" r="10.700000000000001" fill="#fff" stroke="#7a7008" stroke-opacity="0.22" stroke-width="1.4"/>
<path d="M1438.2,743.7 A11.4,11.4 0 1 1 1438.2,766.3 Z" fill="#7a7008"/>
<circle cx="1465.6" cy="765.0" r="10.700000000000001" fill="#fff" stroke="#7a7008" stroke-opacity="0.22" stroke-width="1.4"/>
<path d="M1463.8,753.7 A11.4,11.4 0 1 1 1463.8,776.3 Z" fill="#7a7008"/>
<circle cx="1492.6" cy="766.5" r="10.700000000000001" fill="#fff" stroke="#7a7008" stroke-opacity="0.22" stroke-width="1.4"/>
<path d="M1490.8,755.2 A11.4,11.4 0 1 1 1490.8,777.8 Z" fill="#7a7008"/>
<circle cx="1519.6" cy="766.5" r="10.700000000000001" fill="#fff" stroke="#7a7008" stroke-opacity="0.22" stroke-width="1.4"/>
<path d="M1517.8,755.2 A11.4,11.4 0 1 1 1517.8,777.8 Z" fill="#7a7008"/>
<circle cx="1546.5" cy="765.0" r="10.700000000000001" fill="#fff" stroke="#7a7008" stroke-opacity="0.22" stroke-width="1.4"/>
<path d="M1544.7,753.7 A11.4,11.4 0 1 1 1544.7,776.3 Z" fill="#7a7008"/>
<circle cx="1573.0" cy="768.0" r="10.700000000000001" fill="#fff" stroke="#7a7008" stroke-opacity="0.22" stroke-width="1.4"/>
<path d="M1571.2,756.7 A11.4,11.4 0 1 1 1571.2,779.3 Z" fill="#7a7008"/>
<circle cx="1599.0" cy="769.6" r="10.700000000000001" fill="#fff" stroke="#7a7008" stroke-opacity="0.22" stroke-width="1.4"/>
<path d="M1597.2,758.3 A11.4,11.4 0 1 1 1597.2,780.9 Z" fill="#7a7008"/>
<circle cx="1626.0" cy="769.6" r="10.700000000000001" fill="#fff" stroke="#7a7008" stroke-opacity="0.22" stroke-width="1.4"/>
<path d="M1624.2,758.3 A11.4,11.4 0 1 1 1624.2,780.9 Z" fill="#7a7008"/>
<circle cx="1652.0" cy="771.0" r="10.700000000000001" fill="#fff" stroke="#7a7008" stroke-opacity="0.22" stroke-width="1.4"/>
<path d="M1650.2,759.7 A11.4,11.4 0 1 1 1650.2,782.3 Z" fill="#7a7008"/>
<circle cx="1678.0" cy="771.0" r="10.700000000000001" fill="#fff" stroke="#7a7008" stroke-opacity="0.22" stroke-width="1.4"/>
<path d="M1676.2,759.7 A11.4,11.4 0 1 1 1676.2,782.3 Z" fill="#7a7008"/>
<circle cx="1705.0" cy="773.2" r="10.700000000000001" fill="#fff" stroke="#7a7008" stroke-opacity="0.22" stroke-width="1.4"/>
<path d="M1703.2,761.9 A11.4,11.4 0 1 1 1703.2,784.5 Z" fill="#7a7008"/>
<circle cx="1731.0" cy="773.6" r="10.700000000000001" fill="#fff" stroke="#7a7008" stroke-opacity="0.22" stroke-width="1.4"/>
<path d="M1729.2,762.3 A11.4,11.4 0 1 1 1729.2,784.9 Z" fill="#7a7008"/>
<circle cx="1757.0" cy="774.0" r="10.700000000000001" fill="#fff" stroke="#7a7008" stroke-opacity="0.22" stroke-width="1.4"/>
<path d="M1755.2,762.7 A11.4,11.4 0 1 1 1755.2,785.3 Z" fill="#7a7008"/>
<circle cx="1783.3" cy="774.8" r="10.700000000000001" fill="#fff" stroke="#7a7008" stroke-opacity="0.22" stroke-width="1.4"/>
<path d="M1781.5,763.5 A11.4,11.4 0 1 1 1781.5,786.1 Z" fill="#7a7008"/>
<circle cx="1809.4" cy="778.4" r="10.700000000000001" fill="#fff" stroke="#7a7008" stroke-opacity="0.22" stroke-width="1.4"/>
<path d="M1807.6,767.1 A11.4,11.4 0 1 1 1807.6,789.7 Z" fill="#7a7008"/>
<circle cx="1835.6" cy="777.2" r="10.700000000000001" fill="#fff" stroke="#7a7008" stroke-opacity="0.22" stroke-width="1.4"/>
<path d="M1833.8,765.9 A11.4,11.4 0 1 1 1833.8,788.5 Z" fill="#7a7008"/>
<circle cx="1861.8" cy="777.2" r="10.700000000000001" fill="#fff" stroke="#7a7008" stroke-opacity="0.22" stroke-width="1.4"/>
<path d="M1860.0,765.9 A11.4,11.4 0 1 1 1860.0,788.5 Z" fill="#7a7008"/>
<circle cx="1888.0" cy="779.6" r="10.700000000000001" fill="#fff" stroke="#7a7008" stroke-opacity="0.22" stroke-width="1.4"/>
<path d="M1886.2,768.3 A11.4,11.4 0 1 1 1886.2,790.9 Z" fill="#7a7008"/>
<circle cx="1914.0" cy="782.0" r="10.700000000000001" fill="#fff" stroke="#7a7008" stroke-opacity="0.22" stroke-width="1.4"/>
<path d="M1912.2,770.7 A11.4,11.4 0 1 1 1912.2,793.3 Z" fill="#7a7008"/>
<circle cx="1940.3" cy="782.0" r="10.700000000000001" fill="#fff" stroke="#7a7008" stroke-opacity="0.22" stroke-width="1.4"/>
<path d="M1938.5,770.7 A11.4,11.4 0 1 1 1938.5,793.3 Z" fill="#7a7008"/>
<circle cx="1968.8" cy="784.3" r="10.700000000000001" fill="#fff" stroke="#7a7008" stroke-opacity="0.22" stroke-width="1.4"/>
<path d="M1967.0,773.0 A11.4,11.4 0 1 1 1967.0,795.6 Z" fill="#7a7008"/>
<circle cx="1979.4" cy="784.0" r="10.700000000000001" fill="#fff" stroke="#7a7008" stroke-opacity="0.22" stroke-width="1.4"/>
<path d="M1977.6,772.7 A11.4,11.4 0 1 1 1977.6,795.3 Z" fill="#7a7008"/>
<circle cx="468.0" cy="260.6" r="10.5" fill="#fff" stroke="#66063a" stroke-opacity="0.22" stroke-width="1.4"/>
<path d="M470.2,249.6 A11.2,11.2 0 1 0 470.2,271.6 Z" fill="#66063a"/>
<circle cx="493.7" cy="280.4" r="10.5" fill="#fff" stroke="#66063a" stroke-opacity="0.22" stroke-width="1.4"/>
<path d="M495.9,269.4 A11.2,11.2 0 1 0 495.9,291.4 Z" fill="#66063a"/>
<circle cx="519.5" cy="296.3" r="10.5" fill="#fff" stroke="#66063a" stroke-opacity="0.22" stroke-width="1.4"/>
<path d="M521.7,285.3 A11.2,11.2 0 1 0 521.7,307.3 Z" fill="#66063a"/>
<circle cx="545.2" cy="304.2" r="10.5" fill="#fff" stroke="#66063a" stroke-opacity="0.22" stroke-width="1.4"/>
<path d="M547.4,293.2 A11.2,11.2 0 1 0 547.4,315.2 Z" fill="#66063a"/>
<circle cx="571.8" cy="307.0" r="10.5" fill="#fff" stroke="#66063a" stroke-opacity="0.22" stroke-width="1.4"/>
<path d="M574.0,296.0 A11.2,11.2 0 1 0 574.0,318.0 Z" fill="#66063a"/>
<circle cx="598.0" cy="310.0" r="10.5" fill="#fff" stroke="#66063a" stroke-opacity="0.22" stroke-width="1.4"/>
<path d="M600.2,299.0 A11.2,11.2 0 1 0 600.2,321.0 Z" fill="#66063a"/>
<circle cx="623.8" cy="310.0" r="10.5" fill="#fff" stroke="#66063a" stroke-opacity="0.22" stroke-width="1.4"/>
<path d="M626.0,299.0 A11.2,11.2 0 1 0 626.0,321.0 Z" fill="#66063a"/>
<circle cx="650.3" cy="312.0" r="10.5" fill="#fff" stroke="#66063a" stroke-opacity="0.22" stroke-width="1.4"/>
<path d="M652.5,301.0 A11.2,11.2 0 1 0 652.5,323.0 Z" fill="#66063a"/>
<circle cx="677.0" cy="314.0" r="10.5" fill="#fff" stroke="#66063a" stroke-opacity="0.22" stroke-width="1.4"/>
<path d="M679.2,303.0 A11.2,11.2 0 1 0 679.2,325.0 Z" fill="#66063a"/>
<circle cx="702.7" cy="313.0" r="10.5" fill="#fff" stroke="#66063a" stroke-opacity="0.22" stroke-width="1.4"/>
<path d="M704.9,302.0 A11.2,11.2 0 1 0 704.9,324.0 Z" fill="#66063a"/>
<circle cx="728.4" cy="314.0" r="10.5" fill="#fff" stroke="#66063a" stroke-opacity="0.22" stroke-width="1.4"/>
<path d="M730.6,303.0 A11.2,11.2 0 1 0 730.6,325.0 Z" fill="#66063a"/>
<circle cx="754.6" cy="316.0" r="10.5" fill="#fff" stroke="#66063a" stroke-opacity="0.22" stroke-width="1.4"/>
<path d="M756.8,305.0 A11.2,11.2 0 1 0 756.8,327.0 Z" fill="#66063a"/>
<circle cx="781.0" cy="316.0" r="10.5" fill="#fff" stroke="#66063a" stroke-opacity="0.22" stroke-width="1.4"/>
<path d="M783.2,305.0 A11.2,11.2 0 1 0 783.2,327.0 Z" fill="#66063a"/>
<circle cx="807.0" cy="316.0" r="10.5" fill="#fff" stroke="#66063a" stroke-opacity="0.22" stroke-width="1.4"/>
<path d="M809.2,305.0 A11.2,11.2 0 1 0 809.2,327.0 Z" fill="#66063a"/>
<circle cx="833.5" cy="315.0" r="10.5" fill="#fff" stroke="#66063a" stroke-opacity="0.22" stroke-width="1.4"/>
<path d="M835.7,304.0 A11.2,11.2 0 1 0 835.7,326.0 Z" fill="#66063a"/>
<circle cx="859.7" cy="316.0" r="10.5" fill="#fff" stroke="#66063a" stroke-opacity="0.22" stroke-width="1.4"/>
<path d="M861.9,305.0 A11.2,11.2 0 1 0 861.9,327.0 Z" fill="#66063a"/>
<circle cx="886.0" cy="316.0" r="10.5" fill="#fff" stroke="#66063a" stroke-opacity="0.22" stroke-width="1.4"/>
<path d="M888.2,305.0 A11.2,11.2 0 1 0 888.2,327.0 Z" fill="#66063a"/>
<circle cx="912.8" cy="316.0" r="10.5" fill="#fff" stroke="#66063a" stroke-opacity="0.22" stroke-width="1.4"/>
<path d="M915.0,305.0 A11.2,11.2 0 1 0 915.0,327.0 Z" fill="#66063a"/>
<circle cx="938.6" cy="316.0" r="10.5" fill="#fff" stroke="#66063a" stroke-opacity="0.22" stroke-width="1.4"/>
<path d="M940.8,305.0 A11.2,11.2 0 1 0 940.8,327.0 Z" fill="#66063a"/>
<circle cx="964.7" cy="316.5" r="10.5" fill="#fff" stroke="#66063a" stroke-opacity="0.22" stroke-width="1.4"/>
<path d="M966.9,305.5 A11.2,11.2 0 1 0 966.9,327.5 Z" fill="#66063a"/>
<circle cx="990.7" cy="317.7" r="10.5" fill="#fff" stroke="#66063a" stroke-opacity="0.22" stroke-width="1.4"/>
<path d="M992.9,306.7 A11.2,11.2 0 1 0 992.9,328.7 Z" fill="#66063a"/>
<circle cx="1017.5" cy="320.6" r="10.5" fill="#fff" stroke="#66063a" stroke-opacity="0.22" stroke-width="1.4"/>
<path d="M1019.7,309.6 A11.2,11.2 0 1 0 1019.7,331.6 Z" fill="#66063a"/>
<circle cx="1043.0" cy="321.9" r="10.5" fill="#fff" stroke="#66063a" stroke-opacity="0.22" stroke-width="1.4"/>
<path d="M1045.2,310.9 A11.2,11.2 0 1 0 1045.2,332.9 Z" fill="#66063a"/>
<circle cx="1070.0" cy="322.7" r="10.5" fill="#fff" stroke="#66063a" stroke-opacity="0.22" stroke-width="1.4"/>
<path d="M1072.2,311.7 A11.2,11.2 0 1 0 1072.2,333.7 Z" fill="#66063a"/>
<circle cx="1096.7" cy="324.7" r="10.5" fill="#fff" stroke="#66063a" stroke-opacity="0.22" stroke-width="1.4"/>
<path d="M1098.9,313.7 A11.2,11.2 0 1 0 1098.9,335.7 Z" fill="#66063a"/>
<circle cx="1122.7" cy="324.7" r="10.5" fill="#fff" stroke="#66063a" stroke-opacity="0.22" stroke-width="1.4"/>
<path d="M1124.9,313.7 A11.2,11.2 0 1 0 1124.9,335.7 Z" fill="#66063a"/>
<circle cx="1149.5" cy="326.0" r="10.5" fill="#fff" stroke="#66063a" stroke-opacity="0.22" stroke-width="1.4"/>
<path d="M1151.7,315.0 A11.2,11.2 0 1 0 1151.7,337.0 Z" fill="#66063a"/>
<circle cx="1175.0" cy="328.9" r="10.5" fill="#fff" stroke="#66063a" stroke-opacity="0.22" stroke-width="1.4"/>
<path d="M1177.2,317.9 A11.2,11.2 0 1 0 1177.2,339.9 Z" fill="#66063a"/>
<circle cx="1201.0" cy="331.0" r="10.5" fill="#fff" stroke="#66063a" stroke-opacity="0.22" stroke-width="1.4"/>
<path d="M1203.2,320.0 A11.2,11.2 0 1 0 1203.2,342.0 Z" fill="#66063a"/>
<circle cx="1227.8" cy="331.0" r="10.5" fill="#fff" stroke="#66063a" stroke-opacity="0.22" stroke-width="1.4"/>
<path d="M1230.0,320.0 A11.2,11.2 0 1 0 1230.0,342.0 Z" fill="#66063a"/>
<circle cx="1253.4" cy="332.0" r="10.5" fill="#fff" stroke="#66063a" stroke-opacity="0.22" stroke-width="1.4"/>
<path d="M1255.6,321.0 A11.2,11.2 0 1 0 1255.6,343.0 Z" fill="#66063a"/>
<circle cx="1280.0" cy="332.0" r="10.5" fill="#fff" stroke="#66063a" stroke-opacity="0.22" stroke-width="1.4"/>
<path d="M1282.2,321.0 A11.2,11.2 0 1 0 1282.2,343.0 Z" fill="#66063a"/>
<circle cx="1307.0" cy="331.8" r="10.5" fill="#fff" stroke="#66063a" stroke-opacity="0.22" stroke-width="1.4"/>
<path d="M1309.2,320.8 A11.2,11.2 0 1 0 1309.2,342.8 Z" fill="#66063a"/>
<circle cx="1331.8" cy="330.0" r="10.5" fill="#fff" stroke="#66063a" stroke-opacity="0.22" stroke-width="1.4"/>
<path d="M1334.0,319.0 A11.2,11.2 0 1 0 1334.0,341.0 Z" fill="#66063a"/>
<circle cx="1358.6" cy="335.0" r="10.5" fill="#fff" stroke="#66063a" stroke-opacity="0.22" stroke-width="1.4"/>
<path d="M1360.8,324.0 A11.2,11.2 0 1 0 1360.8,346.0 Z" fill="#66063a"/>
<circle cx="1385.4" cy="335.9" r="10.5" fill="#fff" stroke="#66063a" stroke-opacity="0.22" stroke-width="1.4"/>
<path d="M1387.6,324.9 A11.2,11.2 0 1 0 1387.6,346.9 Z" fill="#66063a"/>
<circle cx="1410.0" cy="335.9" r="10.5" fill="#fff" stroke="#66063a" stroke-opacity="0.22" stroke-width="1.4"/>
<path d="M1412.2,324.9 A11.2,11.2 0 1 0 1412.2,346.9 Z" fill="#66063a"/>
<circle cx="1437.0" cy="335.9" r="10.5" fill="#fff" stroke="#66063a" stroke-opacity="0.22" stroke-width="1.4"/>
<path d="M1439.2,324.9 A11.2,11.2 0 1 0 1439.2,346.9 Z" fill="#66063a"/>
<circle cx="1462.8" cy="338.0" r="10.5" fill="#fff" stroke="#66063a" stroke-opacity="0.22" stroke-width="1.4"/>
<path d="M1465.0,327.0 A11.2,11.2 0 1 0 1465.0,349.0 Z" fill="#66063a"/>
<circle cx="1489.0" cy="339.0" r="10.5" fill="#fff" stroke="#66063a" stroke-opacity="0.22" stroke-width="1.4"/>
<path d="M1491.2,328.0 A11.2,11.2 0 1 0 1491.2,350.0 Z" fill="#66063a"/>
<circle cx="1515.0" cy="340.3" r="10.5" fill="#fff" stroke="#66063a" stroke-opacity="0.22" stroke-width="1.4"/>
<path d="M1517.2,329.3 A11.2,11.2 0 1 0 1517.2,351.3 Z" fill="#66063a"/>
<circle cx="1541.3" cy="341.5" r="10.5" fill="#fff" stroke="#66063a" stroke-opacity="0.22" stroke-width="1.4"/>
<path d="M1543.5,330.5 A11.2,11.2 0 1 0 1543.5,352.5 Z" fill="#66063a"/>
<circle cx="1568.7" cy="342.7" r="10.5" fill="#fff" stroke="#66063a" stroke-opacity="0.22" stroke-width="1.4"/>
<path d="M1570.9,331.7 A11.2,11.2 0 1 0 1570.9,353.7 Z" fill="#66063a"/>
<circle cx="1595.0" cy="343.9" r="10.5" fill="#fff" stroke="#66063a" stroke-opacity="0.22" stroke-width="1.4"/>
<path d="M1597.2,332.9 A11.2,11.2 0 1 0 1597.2,354.9 Z" fill="#66063a"/>
<circle cx="1621.0" cy="345.0" r="10.5" fill="#fff" stroke="#66063a" stroke-opacity="0.22" stroke-width="1.4"/>
<path d="M1623.2,334.0 A11.2,11.2 0 1 0 1623.2,356.0 Z" fill="#66063a"/>
<circle cx="1647.0" cy="346.2" r="10.5" fill="#fff" stroke="#66063a" stroke-opacity="0.22" stroke-width="1.4"/>
<path d="M1649.2,335.2 A11.2,11.2 0 1 0 1649.2,357.2 Z" fill="#66063a"/>
<circle cx="1673.4" cy="347.4" r="10.5" fill="#fff" stroke="#66063a" stroke-opacity="0.22" stroke-width="1.4"/>
<path d="M1675.6,336.4 A11.2,11.2 0 1 0 1675.6,358.4 Z" fill="#66063a"/>
<circle cx="1700.7" cy="348.6" r="10.5" fill="#fff" stroke="#66063a" stroke-opacity="0.22" stroke-width="1.4"/>
<path d="M1702.9,337.6 A11.2,11.2 0 1 0 1702.9,359.6 Z" fill="#66063a"/>
<circle cx="1727.4" cy="347.4" r="10.5" fill="#fff" stroke="#66063a" stroke-opacity="0.22" stroke-width="1.4"/>
<path d="M1729.6,336.4 A11.2,11.2 0 1 0 1729.6,358.4 Z" fill="#66063a"/>
<circle cx="1753.5" cy="347.4" r="10.5" fill="#fff" stroke="#66063a" stroke-opacity="0.22" stroke-width="1.4"/>
<path d="M1755.7,336.4 A11.2,11.2 0 1 0 1755.7,358.4 Z" fill="#66063a"/>
<circle cx="1779.7" cy="348.6" r="10.5" fill="#fff" stroke="#66063a" stroke-opacity="0.22" stroke-width="1.4"/>
<path d="M1781.9,337.6 A11.2,11.2 0 1 0 1781.9,359.6 Z" fill="#66063a"/>
<circle cx="1807.0" cy="349.8" r="10.5" fill="#fff" stroke="#66063a" stroke-opacity="0.22" stroke-width="1.4"/>
<path d="M1809.2,338.8 A11.2,11.2 0 1 0 1809.2,360.8 Z" fill="#66063a"/>
<circle cx="1832.0" cy="351.0" r="10.5" fill="#fff" stroke="#66063a" stroke-opacity="0.22" stroke-width="1.4"/>
<path d="M1834.2,340.0 A11.2,11.2 0 1 0 1834.2,362.0 Z" fill="#66063a"/>
<circle cx="1858.0" cy="347.4" r="10.5" fill="#fff" stroke="#66063a" stroke-opacity="0.22" stroke-width="1.4"/>
<path d="M1860.2,336.4 A11.2,11.2 0 1 0 1860.2,358.4 Z" fill="#66063a"/>
<circle cx="1884.4" cy="348.6" r="10.5" fill="#fff" stroke="#66063a" stroke-opacity="0.22" stroke-width="1.4"/>
<path d="M1886.6,337.6 A11.2,11.2 0 1 0 1886.6,359.6 Z" fill="#66063a"/>
<circle cx="1910.5" cy="349.8" r="10.5" fill="#fff" stroke="#66063a" stroke-opacity="0.22" stroke-width="1.4"/>
<path d="M1912.7,338.8 A11.2,11.2 0 1 0 1912.7,360.8 Z" fill="#66063a"/>
<circle cx="1938.0" cy="349.8" r="10.5" fill="#fff" stroke="#66063a" stroke-opacity="0.22" stroke-width="1.4"/>
<path d="M1940.2,338.8 A11.2,11.2 0 1 0 1940.2,360.8 Z" fill="#66063a"/>
<circle cx="1965.3" cy="349.8" r="10.5" fill="#fff" stroke="#66063a" stroke-opacity="0.22" stroke-width="1.4"/>
<path d="M1967.5,338.8 A11.2,11.2 0 1 0 1967.5,360.8 Z" fill="#66063a"/>
<circle cx="1979.4" cy="350.0" r="10.5" fill="#fff" stroke="#66063a" stroke-opacity="0.22" stroke-width="1.4"/>
<path d="M1981.6,339.0 A11.2,11.2 0 1 0 1981.6,361.0 Z" fill="#66063a"/>
</g>
<text transform="translate(276.7,132.5) scale(1.0102,1)" font-size="100.00" fill="#000">100</text>
<text transform="translate(321.2,697.0) scale(1.0238,1)" font-size="102.26" fill="#000">75</text>
<text transform="translate(323.8,1259.0) scale(1.0639,1)" font-size="100.74" fill="#000">50</text>
<text transform="translate(874.8,1342.0) scale(1.0612,1)" font-size="101.48" fill="#000">40</text>
<text transform="translate(1399.5,1343.0) scale(1.0597,1)" font-size="102.22" fill="#000">80</text>
<text transform="translate(1907.8,1340.8) scale(1.0246,1)" font-size="98.67" fill="#000">120</text>
<text transform="translate(976.7,1437.0) scale(1.0695,1)" font-size="96.65" fill="#000">Time / min</text>
<text transform="translate(254.3,939.8) rotate(-90) scale(0.9712,1)" font-size="99.63" fill="#000">Conversion / &#37;</text>
<text transform="translate(34.9,179.1) scale(1.1128,1)" font-size="140.61" fill="#000">(</text>
<text transform="translate(82.3,188.5) scale(1.0765,1)" font-size="138.75" fill="#000">a</text>
<text transform="translate(141.2,179.1) scale(1.1573,1)" font-size="140.61" fill="#000">)</text>
<text transform="translate(1388.5,227.4) scale(1.0008,1)" font-size="80.60" fill="#ff1010" style="stroke:#ff1010;stroke-width:0.5px">Cu<tspan font-size="58.03" dy="18.94">2</tspan><tspan dy="-18.94">S-P</tspan></text>
<text transform="translate(1402.5,425.4) scale(1.0245,1)" font-size="78.64" fill="#6a1040" style="stroke:#6a1040;stroke-width:0.5px">Cu<tspan font-size="56.62" dy="18.48">2</tspan><tspan dy="-18.48">O-P</tspan></text>
<text transform="translate(1424.6,583.0) scale(0.9937,1)" font-size="75.02" fill="#f0c060" style="stroke:#f0c060;stroke-width:0.5px">Cu<tspan font-size="54.01" dy="17.63">2</tspan><tspan dy="-17.63">S-S</tspan></text>
<text transform="translate(1407.0,731.0) scale(0.9904,1)" font-size="75.47" fill="#6f6a1e" style="stroke:#6f6a1e;stroke-width:0.5px">Cu<tspan font-size="54.34" dy="17.74">2</tspan><tspan dy="-17.74">O-S</tspan></text>
<text transform="translate(1529.0,849.0) scale(1.0266,1)" font-size="73.96" fill="#86d4f7" style="stroke:#86d4f7;stroke-width:0.5px">Cu<tspan font-size="53.25" dy="17.38">2</tspan><tspan dy="-17.38">S-C</tspan></text>
<text transform="translate(1423.0,1002.0) scale(0.9763,1)" font-size="77.28" fill="#1f2a98" style="stroke:#1f2a98;stroke-width:0.5px">Cu<tspan font-size="55.64" dy="18.16">2</tspan><tspan dy="-18.16">O-C</tspan></text>
<rect x="470" y="1495.4" width="1509" height="1126.1999999999998" fill="none" stroke="#4a4a4a" stroke-width="5.5" stroke-linejoin="round"/>
<line x1="447" y1="1620.4" x2="470" y2="1620.4" stroke="#4a4a4a" stroke-width="5"/>
<line x1="447" y1="1995.8" x2="470" y2="1995.8" stroke="#4a4a4a" stroke-width="5"/>
<line x1="447" y1="2371.2" x2="470" y2="2371.2" stroke="#4a4a4a" stroke-width="5"/>
<line x1="458" y1="1808.1" x2="470" y2="1808.1" stroke="#4a4a4a" stroke-width="5"/>
<line x1="458" y1="2183.5" x2="470" y2="2183.5" stroke="#4a4a4a" stroke-width="5"/>
<line x1="458" y1="2558.9" x2="470" y2="2558.9" stroke="#4a4a4a" stroke-width="5"/>
<line x1="918" y1="2621.6" x2="918" y2="2644.6" stroke="#4a4a4a" stroke-width="5"/>
<line x1="1407.2" y1="2621.6" x2="1407.2" y2="2644.6" stroke="#4a4a4a" stroke-width="5"/>
<line x1="1896.5" y1="2621.6" x2="1896.5" y2="2644.6" stroke="#4a4a4a" stroke-width="5"/>
<line x1="673.4" y1="2621.6" x2="673.4" y2="2633.6" stroke="#4a4a4a" stroke-width="5"/>
<line x1="1162.6" y1="2621.6" x2="1162.6" y2="2633.6" stroke="#4a4a4a" stroke-width="5"/>
<line x1="1651.8" y1="2621.6" x2="1651.8" y2="2633.6" stroke="#4a4a4a" stroke-width="5"/>
<g clip-path="url(#clipB)">
<path d="M470.0,1581.0 C475.0,1578.5 490.0,1570.8 500.0,1566.0 C510.0,1561.2 520.0,1556.3 530.0,1552.5 C540.0,1548.7 549.8,1545.8 560.0,1543.0 C570.2,1540.2 581.5,1537.6 591.5,1536.0 C601.5,1534.4 609.9,1533.8 620.0,1533.3 C630.1,1532.8 638.7,1532.4 652.0,1533.3 C665.3,1534.2 682.8,1536.7 700.0,1538.5 C717.2,1540.3 718.7,1541.5 755.0,1544.0 C791.3,1546.5 863.6,1549.5 918.0,1553.3 C972.4,1557.1 1027.4,1562.0 1081.6,1566.7 C1135.8,1571.4 1188.7,1576.9 1243.0,1581.5 C1297.3,1586.1 1352.8,1590.5 1407.5,1594.2 C1462.2,1597.9 1516.6,1600.9 1571.0,1603.7 C1625.4,1606.5 1679.7,1609.5 1734.0,1611.3 C1788.3,1613.1 1869.8,1614.2 1897.0,1614.8" fill="none" stroke="#1a1a1a" stroke-width="4.5"/>
<circle cx="591.5" cy="1536.6" r="19.6" fill="#4bbaf6"/>
<circle cx="587.3" cy="1532.8" r="6.5" fill="url(#hl)"/>
<circle cx="755" cy="1544.6" r="19.6" fill="#4bbaf6"/>
<circle cx="750.8" cy="1540.8" r="6.5" fill="url(#hl)"/>
<circle cx="918" cy="1553.8999999999999" r="19.6" fill="#4bbaf6"/>
<circle cx="913.8" cy="1550.1" r="6.5" fill="url(#hl)"/>
<circle cx="1081.6" cy="1567.3" r="19.6" fill="#4bbaf6"/>
<circle cx="1077.3999999999999" cy="1563.5" r="6.5" fill="url(#hl)"/>
<circle cx="1243" cy="1582.1" r="19.6" fill="#4bbaf6"/>
<circle cx="1238.8" cy="1578.3" r="6.5" fill="url(#hl)"/>
<circle cx="1407.5" cy="1594.8" r="19.6" fill="#4bbaf6"/>
<circle cx="1403.3" cy="1591.0" r="6.5" fill="url(#hl)"/>
<circle cx="1571" cy="1604.3" r="19.6" fill="#4bbaf6"/>
<circle cx="1566.8" cy="1600.5" r="6.5" fill="url(#hl)"/>
<circle cx="1734" cy="1611.8999999999999" r="19.6" fill="#4bbaf6"/>
<circle cx="1729.8" cy="1608.1" r="6.5" fill="url(#hl)"/>
<circle cx="1897" cy="1615.3999999999999" r="19.6" fill="#4bbaf6"/>
<circle cx="1892.8" cy="1611.6" r="6.5" fill="url(#hl)"/>
</g>
<text transform="translate(323.0,1650.6) scale(1.0705,1)" font-size="100.44" fill="#000">90</text>
<text transform="translate(323.1,2027.5) scale(1.0368,1)" font-size="101.48" fill="#000">60</text>
<text transform="translate(321.9,2404.0) scale(1.0478,1)" font-size="102.22" fill="#000">30</text>
<text transform="translate(890.3,2733.0) scale(1.1496,1)" font-size="96.65" fill="#000">6</text>
<text transform="translate(1357.5,2736.0) scale(0.9909,1)" font-size="104.15" fill="#000">12</text>
<text transform="translate(1848.8,2735.8) scale(0.9567,1)" font-size="104.89" fill="#000">18</text>
<text transform="translate(1013.6,2828.7) scale(1.0491,1)" font-size="98.87" fill="#000">Time / h</text>
<text transform="translate(248.7,2325.9) rotate(-90) scale(0.9395,1)" font-size="103.32" fill="#000">Conversion / &#37;</text>
<text transform="translate(35.2,1595.2) scale(1.1039,1)" font-size="139.61" fill="#000">(</text>
<text transform="translate(85.0,1605.6) scale(1.0100,1)" font-size="139.15" fill="#000">b</text>
<text transform="translate(152.0,1595.2) scale(1.0932,1)" font-size="139.61" fill="#000">)</text>
<line x1="1611.5" y1="1809.4" x2="1850" y2="1658" stroke="#555" stroke-width="2.5"/>
<path d="M1873.0,1643.6 L1851.4,1665.6 L1851.0,1657.5 L1843.9,1653.8 Z" fill="#111"/>
<text transform="translate(1435.6,1882.0) scale(1.0502,1)" font-size="99.26" fill="#000">90.39</text>
<rect x="471.3" y="2888.7" width="1506.3" height="1128.0" fill="none" stroke="#4a4a4a" stroke-width="5.5" stroke-linejoin="round"/>
<line x1="448.3" y1="2888.7" x2="471.3" y2="2888.7" stroke="#4a4a4a" stroke-width="5"/>
<line x1="448.3" y1="3452.7" x2="471.3" y2="3452.7" stroke="#4a4a4a" stroke-width="5"/>
<line x1="448.3" y1="4016.7" x2="471.3" y2="4016.7" stroke="#4a4a4a" stroke-width="5"/>
<line x1="459.3" y1="3170.7" x2="471.3" y2="3170.7" stroke="#4a4a4a" stroke-width="5"/>
<line x1="459.3" y1="3734.7" x2="471.3" y2="3734.7" stroke="#4a4a4a" stroke-width="5"/>
<line x1="929.9" y1="4016.7" x2="929.9" y2="4039.7" stroke="#4a4a4a" stroke-width="5"/>
<line x1="1453.8" y1="4016.7" x2="1453.8" y2="4039.7" stroke="#4a4a4a" stroke-width="5"/>
<line x1="1977.6" y1="4016.7" x2="1977.6" y2="4039.7" stroke="#4a4a4a" stroke-width="5"/>
<line x1="667.9" y1="4016.7" x2="667.9" y2="4028.7" stroke="#4a4a4a" stroke-width="5"/>
<line x1="1191.8" y1="4016.7" x2="1191.8" y2="4028.7" stroke="#4a4a4a" stroke-width="5"/>
<line x1="1715.7" y1="4016.7" x2="1715.7" y2="4028.7" stroke="#4a4a4a" stroke-width="5"/>
<g clip-path="url(#clipC)">
<path d="M471.0,3046.5 C474.2,3049.1 483.5,3060.2 490.0,3062.0 C496.5,3063.8 499.9,3062.4 510.0,3057.0 C520.1,3051.6 537.4,3037.1 550.4,3029.4 C563.4,3021.7 575.5,3016.1 588.2,3011.0 C600.9,3005.9 613.5,3001.3 626.7,2998.8 C639.9,2996.3 654.4,2996.3 667.6,2995.8 C680.8,2995.3 693.1,2995.3 706.0,2995.8 C718.9,2996.3 731.9,2997.8 745.0,2998.8 C758.1,2999.8 771.5,3001.0 784.8,3002.0 C798.0,3003.0 811.5,3003.3 824.5,3005.0 C837.5,3006.7 850.0,3009.8 863.0,3012.3 C876.0,3014.8 889.5,3018.4 902.7,3020.2 C915.9,3022.0 929.4,3021.6 942.4,3023.3 C955.4,3025.0 967.9,3028.4 980.9,3030.6 C993.9,3032.8 1007.3,3034.4 1020.5,3036.7 C1033.7,3039.0 1047.1,3042.2 1060.2,3044.6 C1073.3,3046.9 1086.2,3047.7 1099.3,3050.8 C1112.4,3053.9 1125.8,3059.5 1139.0,3063.0 C1152.2,3066.5 1165.7,3068.9 1178.7,3072.0 C1191.7,3075.1 1204.0,3078.4 1217.0,3081.3 C1230.0,3084.2 1243.8,3087.2 1257.0,3089.6 C1270.2,3092.0 1283.4,3094.1 1296.4,3096.0 C1309.4,3097.9 1322.0,3098.9 1335.0,3101.0 C1348.0,3103.1 1361.2,3106.1 1374.5,3108.6 C1387.8,3111.1 1401.3,3114.4 1414.5,3116.0 C1427.7,3117.6 1440.9,3117.1 1453.8,3118.0 C1466.7,3118.9 1479.1,3120.2 1492.0,3121.3 C1504.9,3122.4 1517.8,3124.0 1531.0,3124.5 C1544.2,3125.0 1557.7,3123.8 1571.0,3124.5 C1584.3,3125.2 1597.8,3128.5 1611.0,3129.0 C1624.2,3129.5 1637.6,3129.9 1650.5,3127.7 C1663.4,3125.5 1675.7,3118.7 1688.6,3116.0 C1701.5,3113.3 1714.8,3114.3 1728.0,3111.8 C1741.2,3109.3 1754.8,3104.5 1768.0,3101.0 C1781.2,3097.5 1794.0,3093.6 1807.0,3090.9 C1820.0,3088.2 1833.0,3088.4 1846.0,3085.0 C1859.0,3081.6 1871.9,3074.9 1885.0,3070.6 C1898.1,3066.3 1911.5,3061.6 1924.6,3059.0 C1937.7,3056.4 1955.0,3056.7 1963.8,3055.0 C1972.6,3053.3 1975.3,3050.0 1977.6,3049.0" fill="none" stroke="#3a3a3a" stroke-width="4.5"/>
<circle cx="471.0" cy="3046.5" r="14" fill="url(#gG)"/>
<circle cx="510.0" cy="3057.0" r="14" fill="url(#gG)"/>
<circle cx="550.4" cy="3029.4" r="14" fill="url(#gG)"/>
<circle cx="588.2" cy="3011.0" r="14" fill="url(#gG)"/>
<circle cx="626.7" cy="2998.8" r="14" fill="url(#gG)"/>
<circle cx="667.6" cy="2995.8" r="14" fill="url(#gG)"/>
<circle cx="706.0" cy="2995.8" r="14" fill="url(#gG)"/>
<circle cx="745.0" cy="2998.8" r="14" fill="url(#gG)"/>
<circle cx="784.8" cy="3002.0" r="14" fill="url(#gG)"/>
<circle cx="824.5" cy="3005.0" r="14" fill="url(#gG)"/>
<circle cx="863.0" cy="3012.3" r="14" fill="url(#gG)"/>
<circle cx="902.7" cy="3020.2" r="14" fill="url(#gG)"/>
<circle cx="942.4" cy="3023.3" r="14" fill="url(#gG)"/>
<circle cx="980.9" cy="3030.6" r="14" fill="url(#gG)"/>
<circle cx="1020.5" cy="3036.7" r="14" fill="url(#gG)"/>
<circle cx="1060.2" cy="3044.6" r="14" fill="url(#gG)"/>
<circle cx="1099.3" cy="3050.8" r="14" fill="url(#gG)"/>
<circle cx="1139.0" cy="3063.0" r="14" fill="url(#gG)"/>
<circle cx="1178.7" cy="3072.0" r="14" fill="url(#gG)"/>
<circle cx="1217.0" cy="3081.3" r="14" fill="url(#gG)"/>
<circle cx="1257.0" cy="3089.6" r="14" fill="url(#gG)"/>
<circle cx="1296.4" cy="3096.0" r="14" fill="url(#gG)"/>
<circle cx="1335.0" cy="3101.0" r="14" fill="url(#gG)"/>
<circle cx="1374.5" cy="3108.6" r="14" fill="url(#gG)"/>
<circle cx="1414.5" cy="3116.0" r="14" fill="url(#gG)"/>
<circle cx="1453.8" cy="3118.0" r="14" fill="url(#gG)"/>
<circle cx="1492.0" cy="3121.3" r="14" fill="url(#gG)"/>
<circle cx="1531.0" cy="3124.5" r="14" fill="url(#gG)"/>
<circle cx="1571.0" cy="3124.5" r="14" fill="url(#gG)"/>
<circle cx="1611.0" cy="3129.0" r="14" fill="url(#gG)"/>
<circle cx="1650.5" cy="3127.7" r="14" fill="url(#gG)"/>
<circle cx="1688.6" cy="3116.0" r="14" fill="url(#gG)"/>
<circle cx="1728.0" cy="3111.8" r="14" fill="url(#gG)"/>
<circle cx="1768.0" cy="3101.0" r="14" fill="url(#gG)"/>
<circle cx="1807.0" cy="3090.9" r="14" fill="url(#gG)"/>
<circle cx="1846.0" cy="3085.0" r="14" fill="url(#gG)"/>
<circle cx="1885.0" cy="3070.6" r="14" fill="url(#gG)"/>
<circle cx="1924.6" cy="3059.0" r="14" fill="url(#gG)"/>
<circle cx="1963.8" cy="3055.0" r="14" fill="url(#gG)"/>
<circle cx="1977.6" cy="3049.0" r="14" fill="url(#gG)"/>
</g>
<text transform="translate(282.2,2919.0) scale(0.9558,1)" font-size="103.26" fill="#000">100</text>
<text transform="translate(326.3,3483.0) scale(1.0564,1)" font-size="101.04" fill="#000">50</text>
<text transform="translate(378.9,4048.9) scale(1.0261,1)" font-size="105.48" fill="#000">0</text>
<text transform="translate(877.4,4130.0) scale(1.0427,1)" font-size="100.74" fill="#000">40</text>
<text transform="translate(1401.4,4131.0) scale(1.0608,1)" font-size="99.26" fill="#000">80</text>
<text transform="translate(1903.0,4130.0) scale(1.0331,1)" font-size="99.26" fill="#000">120</text>
<text transform="translate(950.2,4224.0) scale(1.0521,1)" font-size="98.14" fill="#000">Time / min</text>
<text transform="translate(252.7,3720.9) rotate(-90) scale(0.9531,1)" font-size="101.85" fill="#000">Conversion / &#37;</text>
<text transform="translate(35.2,2965.3) scale(1.1013,1)" font-size="139.94" fill="#000">(</text>
<text transform="translate(82.0,2975.6) scale(1.0395,1)" font-size="137.50" fill="#000">c</text>
<text transform="translate(143.0,2965.3) scale(1.0906,1)" font-size="139.94" fill="#000">)</text>
<line x1="1569.2" y1="3294.2" x2="1930" y2="3088" stroke="#aaa" stroke-width="2.5"/>
<path d="M1952.3,3075.0 L1929.7,3096.0 L1929.7,3087.9 L1922.8,3083.8 Z" fill="#111"/>
<text transform="translate(1337.7,3364.9) scale(1.0533,1)" font-size="97.65" fill="#000">85.78</text>
</svg>
</body></html>
